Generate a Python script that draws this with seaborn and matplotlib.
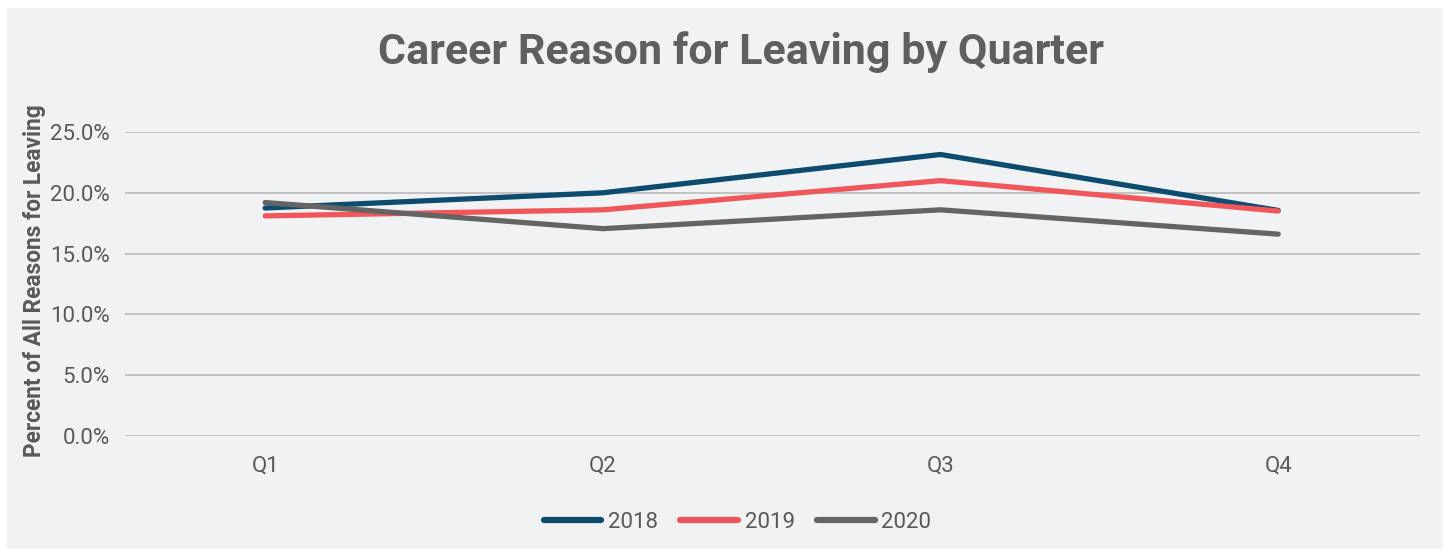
import pandas as pd
import matplotlib.pyplot as plt
import seaborn as sns
from matplotlib.patches import Rectangle
from matplotlib.ticker import PercentFormatter

# data (percent of all reasons for leaving)
quarters = ["Q1", "Q2", "Q3", "Q4"]
years = ["2018", "2019", "2020"]
pct_2018 = [18.75, 20.0, 23.15, 18.55]
pct_2019 = [18.1, 18.6, 21.0, 18.5]
pct_2020 = [19.2, 17.05, 18.6, 16.6]
colors = ["#0d4c6f", "#f0565a", "#646464"]

df = pd.DataFrame({
    "quarter": quarters * 3,
    "year": [y for y in years for _ in quarters],
    "pct": pct_2018 + pct_2019 + pct_2020,
})

sns.set_theme(style="white")
plt.rcParams["font.family"] = ["Roboto", "DejaVu Sans"]

fig = plt.figure(figsize=(14.5, 5.5), dpi=100, facecolor="white")
# light grey panel behind everything
fig.patches.append(Rectangle((7 / 1450, 1 / 550), 1436 / 1450, 541 / 550,
                             transform=fig.transFigure, facecolor="#f1f2f4",
                             edgecolor="none", zorder=-10))

ax = fig.add_axes([125 / 1450, 1 - 436 / 550, 1295 / 1450, 304 / 550])
ax.set_facecolor("none")

sns.lineplot(data=df, x="quarter", y="pct", hue="year", palette=colors,
             linewidth=3.8, ax=ax, legend=True, sort=False)
for ln in ax.get_lines():
    ln.set_solid_capstyle("round")
    ln.set_solid_joinstyle("miter")

ax.set_ylim(0, 25)
ax.set_xlim(-0.415, 3.42)
ax.set_yticks([0, 5, 10, 15, 20, 25])
ax.yaxis.set_major_formatter(PercentFormatter(decimals=1))
ax.grid(axis="y", color="#bfbfbf", linewidth=1.3)
ax.set_axisbelow(True)
for s in ax.spines.values():
    s.set_visible(False)
ax.tick_params(axis="both", length=0, labelsize=16, labelcolor="#595959")
ax.tick_params(axis="y", pad=11)
ax.tick_params(axis="x", pad=14)
ax.set_xlabel("")
ax.set_ylabel("Percent of All Reasons for Leaving", fontsize=16.3,
              fontweight="bold", color="#595959")
ax.yaxis.set_label_coords(-0.061, 0.51)

fig.text(0.511, 0.905, "Career Reason for Leaving by Quarter", ha="center",
         va="center", fontsize=31, fontweight="bold", color="#5f5f5f")

handles, labels = ax.get_legend_handles_labels()
for h in handles:
    h.set_linewidth(4.5)
    h.set_solid_capstyle("round")
ax.legend(handles, labels, loc="center", bbox_to_anchor=(0.473, -0.285),
          ncol=3, frameon=False, fontsize=16, labelcolor="#595959",
          handlelength=2.6, handletextpad=0.3, columnspacing=1.0)

fig.savefig("out.png", dpi=100, facecolor="white")
